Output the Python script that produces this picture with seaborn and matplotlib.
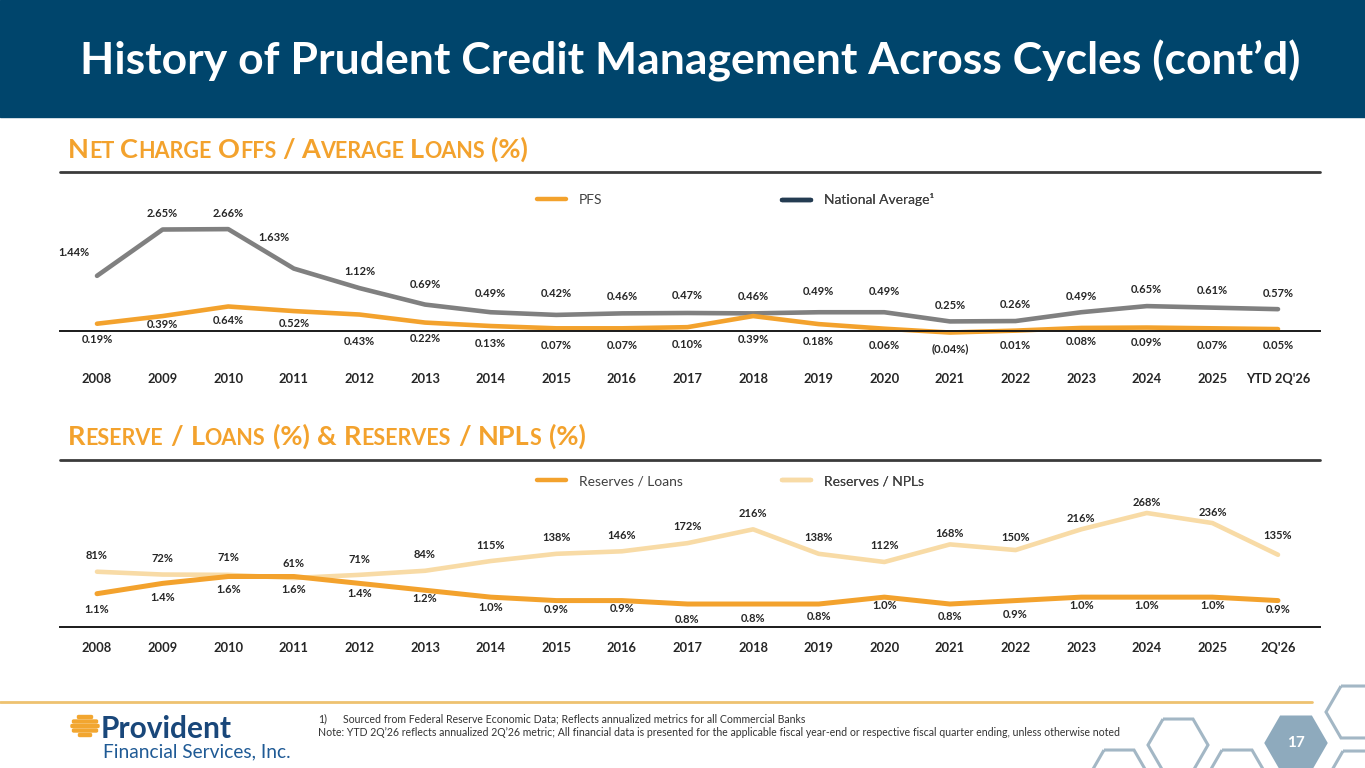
import numpy as np
import pandas as pd
import seaborn as sns
import matplotlib.pyplot as plt
from matplotlib.lines import Line2D
from matplotlib.patches import Rectangle, RegularPolygon, FancyBboxPatch
from matplotlib.transforms import IdentityTransform

# chart data
years_top = ['2008', '2009', '2010', '2011', '2012', '2013', '2014', '2015', '2016',
             '2017', '2018', '2019', '2020', '2021', '2022', '2023', '2024', '2025', "YTD 2Q'26"]
years_bot = years_top[:-1] + ["2Q'26"]
pfs_nco = [0.19, 0.39, 0.64, 0.52, 0.43, 0.22, 0.13, 0.07, 0.07, 0.10,
           0.39, 0.18, 0.06, -0.04, 0.01, 0.08, 0.09, 0.07, 0.05]
nat_nco = [1.44, 2.65, 2.66, 1.63, 1.12, 0.69, 0.49, 0.42, 0.46, 0.47,
           0.46, 0.49, 0.49, 0.25, 0.26, 0.49, 0.65, 0.61, 0.57]
res_loans = [1.1, 1.4, 1.6, 1.6, 1.4, 1.2, 1.0, 0.9, 0.9, 0.8,
             0.8, 0.8, 1.0, 0.8, 0.9, 1.0, 1.0, 1.0, 0.9]
res_npls = [81, 72, 71, 61, 71, 84, 115, 138, 146, 172,
            216, 138, 112, 168, 150, 216, 268, 236, 135]

# label offsets in pixels (dx, dy downwards)
nat_dy = [-23, -16, -16, -31, -17, -20, -19, -21, -17, -17, -17, -21, -21, -16, -17, -16, -17, -17, -16]
nat_dx = [-23, 0, 0, -20] + [0] * 15
pfs_dy = [16, 8, 14, 12, 27, 16, 17, 17, 17, 17, 23, 17, 17, 16, 15, 14, 15, 17, 16]
npl_dy = [-16, -16, -17, -14, -15, -16, -16, -16, -16, -17, -16, -16, -16, -11, -13, -11, -10, -11, -19]
loan_dy = [16, 14, 13, 13, 10, 8, 10, 9, 8, 15, 14, 12, 8, 12, 14, 8, 8, 8, 9]

ORANGE = '#f3a22d'
LIGHT = '#f8dba6'
GREY = '#808080'
NAVY = '#243c52'
BLUE = '#00456c'
TXT = '#262626'

W, H = 1365, 768

sns.set_style('white')
plt.rcParams['font.family'] = ['Lato', 'DejaVu Sans']

fig = plt.figure(figsize=(W / 100, H / 100), dpi=100)
renderer = fig.canvas.get_renderer()


def fx(px):
    return px / W


def fy(py):
    return 1 - py / H


def axes_px(left, top, right, bottom):
    return fig.add_axes([fx(left), fy(bottom), (right - left) / W, (bottom - top) / H])


def smallcaps(x, y, parts, big, small, color, gap=0.32):
    # parts: list of (text, is_big); ' ' adds a word gap
    for txt, is_big in parts:
        if txt == ' ':
            x += big * gap
            continue
        t = fig.text(fx(x), fy(y), txt, fontsize=big if is_big else small,
                     fontweight='bold', color=color, va='baseline', ha='left')
        x += t.get_window_extent(renderer).width


def nco_fmt(v):
    return f'({abs(v):.2f}%)' if v < 0 else f'{v:.2f}%'


def one_legend(ax, color, label, x, y):
    leg = ax.legend([Line2D([], [], color=color, lw=3.2)], [label], loc='center left',
                    bbox_to_anchor=(fx(x), fy(y)), bbox_transform=fig.transFigure,
                    frameon=False, handlelength=2.1, handletextpad=0.9,
                    borderpad=0, borderaxespad=0, fontsize=10, labelcolor='#404040')
    ax.add_artist(leg)


# header band and title
fig.patches.append(Rectangle((0, fy(117)), 1, 117 / H, transform=fig.transFigure,
                             color=BLUE, zorder=0))
fig.text(fx(80), fy(75), 'History of Prudent Credit Management Across Cycles (cont\u2019d)',
         fontsize=32, fontweight='bold', color='white', va='baseline', ha='left')

# section titles
smallcaps(68, 158, [('N', 1), ('ET', 0), (' ', 1), ('C', 1), ('HARGE', 0), (' ', 1),
                    ('O', 1), ('FFS', 0), (' ', 1), ('/', 1), (' ', 1), ('A', 1), ('VERAGE', 0),
                    (' ', 1), ('L', 1), ('OANS', 0), (' ', 1), ('(%)', 1)], 19.5, 15.5, ORANGE)
smallcaps(68, 445, [('R', 1), ('ESERVE', 0), (' ', 1), ('/', 1), (' ', 1), ('L', 1), ('OANS', 0),
                    (' ', 1), ('(%)', 1), (' ', 1), ('&', 1), (' ', 1), ('R', 1), ('ESERVES', 0),
                    (' ', 1), ('/', 1), (' ', 1), ('NPL', 1), ('S', 0), (' ', 1), ('(%)', 1)],
          19.5, 15.5, ORANGE, gap=0.38)
for yy in (172, 460):
    fig.add_artist(Line2D([fx(60), fx(1320)], [fy(yy), fy(yy)], color='#3b3b3b', lw=2))

idx = np.arange(len(years_top))
xl = (-(97 - 60) / 65.61, 18 + (1320 - 1278) / 65.61)
LBL = dict(ha='center', va='center', fontsize=8, fontweight='bold', color=TXT,
           textcoords='offset pixels', annotation_clip=False)

# ---- top chart: net charge offs
df_top = pd.DataFrame({'idx': idx, 'PFS': pfs_nco, 'National': nat_nco})
ax1 = axes_px(60, 190, 1320, 331)
sns.lineplot(data=df_top, x='idx', y='National', ax=ax1, color=GREY, lw=3.3, clip_on=False)
sns.lineplot(data=df_top, x='idx', y='PFS', ax=ax1, color=ORANGE, lw=3.3, clip_on=False)
ax1.set_xlim(*xl)
ax1.set_ylim(0, (331 - 190) / 38.3)
for i, v in enumerate(nat_nco):
    ax1.annotate(nco_fmt(v), (i, v), xytext=(nat_dx[i], -nat_dy[i]), **LBL)
for i, v in enumerate(pfs_nco):
    ax1.annotate(nco_fmt(v), (i, v), xytext=(0, -pfs_dy[i]), **LBL)
one_legend(ax1, ORANGE, 'PFS', 537, 200)
one_legend(ax1, NAVY, 'National Average\u00b9', 782, 200)

# ---- bottom chart: reserves
df_bot = pd.DataFrame({'idx': idx, 'loans': res_loans, 'npls': res_npls})
ax2 = axes_px(60, 470, 1320, 627)
ax3 = ax2.twinx()
sns.lineplot(data=df_bot, x='idx', y='npls', ax=ax3, color=LIGHT, lw=3.3)
sns.lineplot(data=df_bot, x='idx', y='loans', ax=ax2, color=ORANGE, lw=3.6)
ax2.set_zorder(ax3.get_zorder() + 1)
ax2.patch.set_visible(False)
for a in (ax2, ax3):
    a.set_xlim(*xl)
ax2.set_ylim(1.6 - (627 - 576.5) / 34.4, 1.6 + (576.5 - 470) / 34.4)
ax3.set_ylim(268 - (627 - 513) / 0.314, 268 + (513 - 470) / 0.314)
for i, v in enumerate(res_npls):
    ax3.annotate(f'{v:.0f}%', (i, v), xytext=(0, -npl_dy[i]), **LBL)
for i, v in enumerate(res_loans):
    ax2.annotate(f'{v:.1f}%', (i, v), xytext=(0, -loan_dy[i]), **LBL)
one_legend(ax2, ORANGE, 'Reserves / Loans', 537, 481)
one_legend(ax2, LIGHT, 'Reserves / NPLs', 782, 481)

# axis cosmetics
for a, labels, pad in ((ax1, years_top, 30), (ax2, years_bot, 11)):
    a.set_xticks(idx, labels=labels)
    a.tick_params(axis='x', length=0, pad=pad, labelsize=9.3, labelcolor=TXT)
    for lab in a.get_xticklabels():
        lab.set_fontweight('bold')
    a.set_yticks([])
    a.set_xlabel('')
    a.set_ylabel('')
    for s in ('top', 'left', 'right'):
        a.spines[s].set_visible(False)
    a.spines['bottom'].set_color('#1a1a1a')
    a.spines['bottom'].set_linewidth(1.4)
ax3.set_yticks([])
ax3.set_ylabel('')
for s in ax3.spines.values():
    s.set_visible(False)

# ---- footer
fig.add_artist(Line2D([0, fx(1312)], [fy(702), fy(702)], color='#eec270', lw=2))
note_kw = dict(fontsize=7.6, color='#333333', va='baseline')
fig.text(fx(318), fy(722), '1)', **note_kw)
fig.text(fx(343), fy(722), 'Sourced from Federal Reserve Economic Data; Reflects annualized metrics '
         'for all Commercial Banks', **note_kw)
fig.text(fx(318), fy(736), 'Note: YTD 2Q\u201926 reflects annualized 2Q\u201926 metric; All financial data '
         'is presented for the applicable fiscal year-end or respective fiscal quarter ending, '
         'unless otherwise noted', **note_kw)

# logo
for yc, wbar in ((717, 15), (721.5, 25), (726, 28), (730.5, 25), (735, 13)):
    fig.patches.append(FancyBboxPatch((fx(85 - wbar / 2), fy(yc + 1.5)), wbar / W, 3 / H,
                                      boxstyle='round,pad=0,rounding_size=0.0011',
                                      transform=fig.transFigure, color='#f2a630'))
fig.text(fx(101), fy(738), 'Provident', fontsize=21.5, fontweight='bold', color='#19477a',
         va='baseline', ha='left')
fig.text(fx(103), fy(757), 'Financial Services, Inc.', fontsize=13.8, color='#1f5a95',
         va='baseline', ha='left')

# hexagons (pixel coordinates)
hexes = [(1119, 776, False), (1178, 745, False), (1237, 776, False),
         (1356, 712, False), (1358, 777, False), (1296, 743, True)]
for cx, cy, filled in hexes:
    hx = RegularPolygon((cx, H - cy), numVertices=6, radius=30, orientation=np.pi / 6,
                        transform=IdentityTransform(), lw=2.2,
                        facecolor='#8eaabd' if filled else 'none',
                        edgecolor='#8eaabd' if filled else '#a3b7c5')
    fig.patches.append(hx)
fig.text(fx(1296), fy(743), '17', fontsize=11, fontweight='bold', color='white',
         ha='center', va='center')

fig.savefig('out.png', dpi=100)
